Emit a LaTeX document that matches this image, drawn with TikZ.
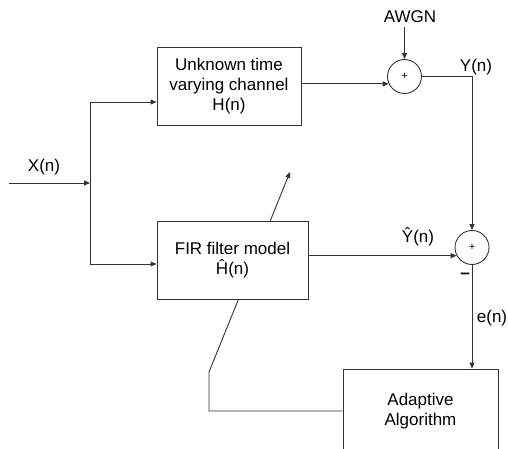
\documentclass[tikz,border=0pt]{standalone}
\usepackage{fontspec}
\setmainfont{Liberation Sans}
\usepackage{tikz}
\usetikzlibrary{arrows.meta,positioning,calc,backgrounds}
\definecolor{linegray}{HTML}{333333}

\begin{document}
\begin{tikzpicture}[x=1pt,y=-1pt,
  block/.style={rectangle,draw=linegray,line width=0.9pt,fill=white,align=center,inner sep=0pt,font=\fontsize{17}{20}\selectfont},
  summer/.style={circle,draw=linegray,line width=0.9pt,minimum size=34pt,inner sep=0pt,font=\fontsize{11}{11}\selectfont},
  lbl/.style={font=\fontsize{17}{20}\selectfont},
  arr/.style={-{Triangle[length=6pt,width=5pt]},draw=linegray,line width=0.9pt},
  wire/.style={draw=linegray,line width=0.9pt}
]
\useasboundingbox (0,0) rectangle (508,449);
\node[block,minimum width=144pt,minimum height=78pt] (chan) at (229,86) {Unknown time\\varying channel\\H(n)};
\node[block,minimum width=151pt,minimum height=78pt] (fir) at (232.5,260) {FIR filter model\\Ĥ(n)};
\node[block,minimum width=155pt,minimum height=84pt] (adapt) at (420.5,411) {Adaptive\\Algorithm};
\node[summer] (sum1) at (404.5,76.5) {+};
\node[summer] (sum2) at (472,247.5) {+};
\node[lbl] (awgn) at (410,17) {AWGN};
\node[lbl] (xn) at (44,167) {X(n)};
\node[lbl] (yn) at (476,67) {Y(n)};
\node[lbl] (yhat) at (418,237) {Ŷ(n)};
\node[lbl] (en) at (492,318) {e(n)};
\node[lbl,font=\fontsize{17}{20}\selectfont\bfseries] (minus) at (465,276) {–};
\coordinate (in) at (9,183);
\coordinate (split) at (90,183);
\coordinate (up) at (90,102);
\coordinate (down) at (90,264);
\coordinate (fb) at (209,372);
\coordinate (tip) at (290,172);
% input and branches
\draw[arr] (in) -- (split);
\draw[wire] (up) -- (down);
\draw[arr] (up) -- (up -| chan.west);
\draw[arr] (down) -- (down -| fir.west);
% channel path
\draw[arr] (chan.east |- sum1.205) -- (sum1.205);
\draw[arr] (awgn.south -| sum1) -- (sum1.north);
\draw[arr] (sum1.east) -| (sum2.north);
% model path
\draw[arr] (fir.east |- sum2.208) -- (sum2.208);
\draw[arr] (sum2.south) -- (sum2.south |- adapt.north);
% adaptation
\begin{scope}[on background layer]
\draw[arr] (adapt.west) -| (fb) -- (tip);
\end{scope}
\end{tikzpicture}
\end{document}
